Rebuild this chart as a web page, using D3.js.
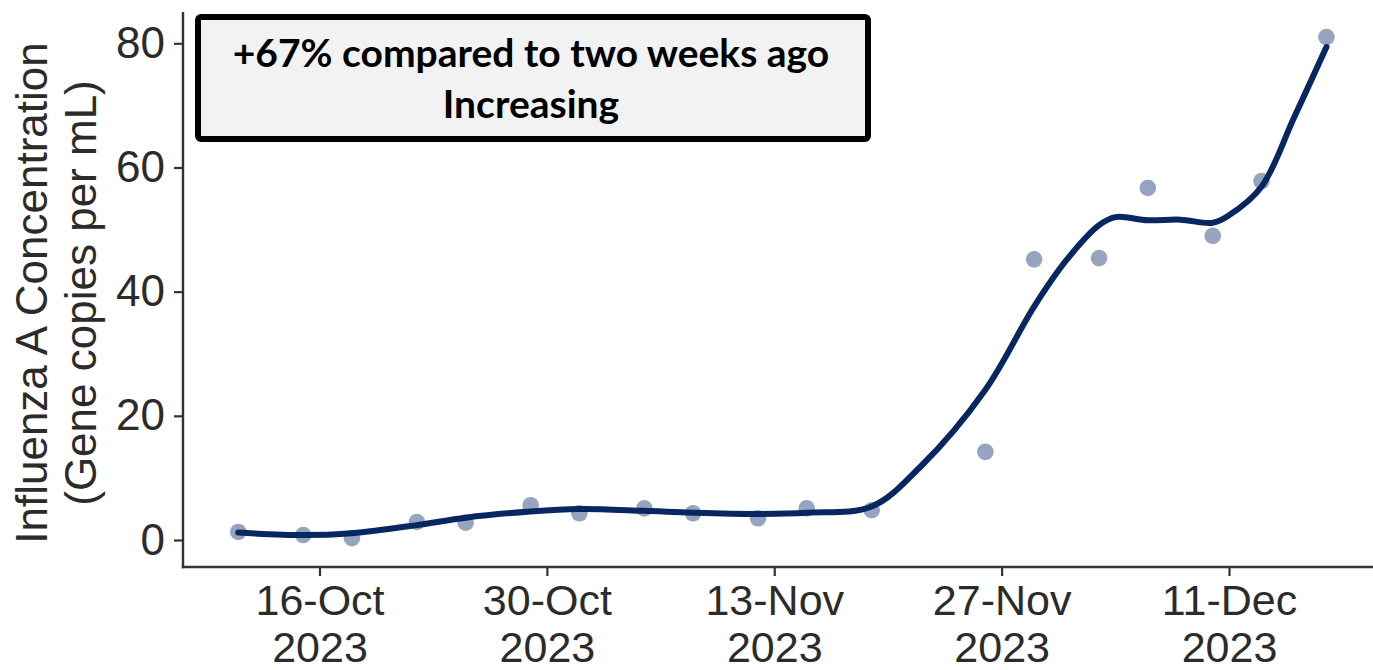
<!DOCTYPE html>
<html>
<head>
<meta charset="utf-8">
<script src="https://cdn.jsdelivr.net/npm/d3@7"></script>
<style>
  html, body { margin: 0; padding: 0; background: #ffffff; }
  svg { display: block; }
</style>
</head>
<body>
<svg id="chart" width="1373" height="670"></svg>
<script>
// ---- data ----
const sampleDates = ["2023-10-11","2023-10-15","2023-10-18","2023-10-22","2023-10-25","2023-10-29",
  "2023-11-01","2023-11-05","2023-11-08","2023-11-12","2023-11-15","2023-11-19",
  "2023-11-26","2023-11-29","2023-12-03","2023-12-06","2023-12-10","2023-12-13","2023-12-17"];
const sampleValues = [1.3, 0.8, 0.3, 2.9, 2.8, 5.6,
  4.3, 5.1, 4.3, 3.5, 5.1, 4.8,
  14.2, 45.2, 45.4, 56.7, 49.0, 57.8, 81.0];

const trendDates = ["2023-10-11","2023-10-15","2023-10-18","2023-10-22","2023-10-25","2023-10-29",
  "2023-11-01","2023-11-05","2023-11-08","2023-11-12","2023-11-15","2023-11-19","2023-11-22",
  "2023-11-26","2023-11-29","2023-12-01","2023-12-03","2023-12-04","2023-12-06","2023-12-08",
  "2023-12-10","2023-12-11","2023-12-13","2023-12-15","2023-12-17"];
const trendValues = [1.2, 0.8, 1.1, 2.4, 3.6, 4.6,
  5.0, 4.7, 4.4, 4.2, 4.4, 5.4, 11.8,
  24.2, 37.6, 45.1, 50.7, 52.0, 51.5, 51.6,
  51.1, 52.3, 56.9, 68.0, 79.4];

const xTickDates = ["2023-10-16","2023-10-30","2023-11-13","2023-11-27","2023-12-11"];
const xTickLabels = [["16-Oct","2023"],["30-Oct","2023"],["13-Nov","2023"],["27-Nov","2023"],["11-Dec","2023"]];
const yTicks = [0, 20, 40, 60, 80];
const yTitleLines = ["Influenza A Concentration", "(Gene copies per mL)"];
const noteLines = ["+67% compared to two weeks ago", "Increasing"];

// ---- setup ----
const parse = d3.utcParse("%Y-%m-%d");
const svg = d3.select("#chart");
const axisFont = "'Liberation Sans', Arial, Helvetica, sans-serif";
const panel = { left: 183, right: 1373, top: 12, bottom: 567 };

const x = d3.scaleUtc()
  .domain([parse("2023-10-16"), parse("2023-12-11")])
  .range([319.5, 1229]);
const y = d3.scaleLinear().domain([0, 80]).range([540, 43.3]);

// ---- axes ----
const yAxis = d3.axisLeft(y).tickValues(yTicks).tickSize(9).tickPadding(9);
const gy = svg.append("g").attr("transform", `translate(${panel.left},0)`).call(yAxis);
gy.select(".domain").remove();
gy.selectAll(".tick line").attr("stroke", "#333").attr("stroke-width", 2.2);
gy.selectAll(".tick text").attr("fill", "#2b2b2b").style("font-family", axisFont).style("font-size", "44px");

const xAxis = d3.axisBottom(x).tickValues(xTickDates.map(parse)).tickSize(9).tickFormat(() => "");
const gx = svg.append("g").attr("transform", `translate(0,${panel.bottom})`).call(xAxis);
gx.select(".domain").remove();
gx.selectAll(".tick line").attr("stroke", "#333").attr("stroke-width", 2.2);
gx.selectAll(".tick text").remove();
gx.selectAll(".tick").each(function(d, i) {
  const t = d3.select(this).append("text")
    .attr("text-anchor", "middle")
    .attr("fill", "#2b2b2b")
    .style("font-family", axisFont).style("font-size", "43px");
  t.append("tspan").attr("x", 0).attr("y", 48).text(xTickLabels[i][0]);
  t.append("tspan").attr("x", 0).attr("y", 95).text(xTickLabels[i][1]);
});

// axis lines
svg.append("line").attr("x1", panel.left).attr("x2", panel.left)
  .attr("y1", panel.top).attr("y2", panel.bottom + 1.2)
  .attr("stroke", "#333").attr("stroke-width", 2.4);
svg.append("line").attr("x1", panel.left - 1.2).attr("x2", panel.right)
  .attr("y1", panel.bottom).attr("y2", panel.bottom)
  .attr("stroke", "#333").attr("stroke-width", 2.4);

// y title
const yt = svg.append("text")
  .attr("transform", `translate(0,293) rotate(-90)`)
  .attr("text-anchor", "middle")
  .attr("fill", "#2b2b2b")
  .style("font-family", axisFont).style("font-size", "44px");
yt.append("tspan").attr("x", 0).attr("y", 47).text(yTitleLines[0]);
yt.append("tspan").attr("x", 0).attr("y", 96).text(yTitleLines[1]);

// ---- marks ----
const pts = sampleDates.map((d, i) => ({ date: parse(d), value: sampleValues[i] }));
svg.append("g").selectAll("circle").data(pts).join("circle")
  .attr("cx", d => x(d.date)).attr("cy", d => y(d.value)).attr("r", 8.3)
  .attr("fill", "#8494b4").attr("fill-opacity", 0.85);

const trend = trendDates.map((d, i) => ({ date: parse(d), value: trendValues[i] }));
svg.append("path").datum(trend)
  .attr("fill", "none").attr("stroke", "#082660").attr("stroke-width", 6)
  .attr("stroke-linecap", "round").attr("stroke-linejoin", "round")
  .attr("d", d3.line().x(d => x(d.date)).y(d => y(d.value)).curve(d3.curveCatmullRom.alpha(0.5)));

// ---- annotation box ----
svg.append("rect").attr("x", 198).attr("y", 17).attr("width", 670).attr("height", 122)
  .attr("rx", 3).attr("fill", "#f2f2f2").attr("stroke", "#000").attr("stroke-width", 6);
const noteFont = "Lato, 'Open Sans', sans-serif";
const nt = svg.append("text").attr("text-anchor", "middle").attr("fill", "#000")
  .style("font-family", noteFont).style("font-weight", "700").style("font-size", "39px");
nt.append("tspan").attr("x", 531).attr("y", 67).text(noteLines[0]);
nt.append("tspan").attr("x", 531).attr("y", 118).text(noteLines[1]);
</script>
</body>
</html>
